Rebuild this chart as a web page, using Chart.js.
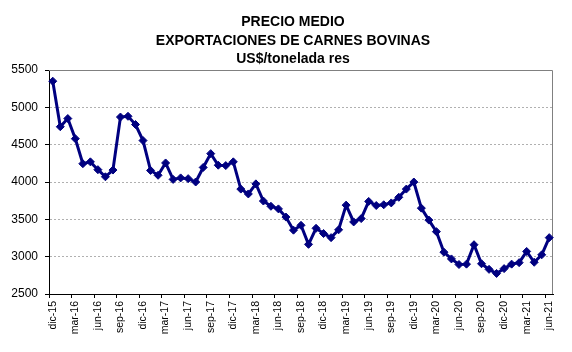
<!DOCTYPE html>
<html>
<head>
<meta charset="utf-8">
<script src="https://cdn.jsdelivr.net/npm/chart.js@4.4.1/dist/chart.umd.min.js"></script>
<style>
html, body { margin: 0; padding: 0; background: #fff; }
canvas { display: block; }
</style>
</head>
<body>
<canvas id="myChart" width="572" height="352"></canvas>
<script>
/* Data */
const titleLines = ['PRECIO MEDIO', 'EXPORTACIONES DE CARNES BOVINAS', 'US$/tonelada res']

const months = [
    'dic-15',
    'ene-16','feb-16','mar-16','abr-16','may-16','jun-16','jul-16','ago-16','sep-16','oct-16','nov-16','dic-16',
    'ene-17','feb-17','mar-17','abr-17','may-17','jun-17','jul-17','ago-17','sep-17','oct-17','nov-17','dic-17',
    'ene-18','feb-18','mar-18','abr-18','may-18','jun-18','jul-18','ago-18','sep-18','oct-18','nov-18','dic-18',
    'ene-19','feb-19','mar-19','abr-19','may-19','jun-19','jul-19','ago-19','sep-19','oct-19','nov-19','dic-19',
    'ene-20','feb-20','mar-20','abr-20','may-20','jun-20','jul-20','ago-20','sep-20','oct-20','nov-20','dic-20',
    'ene-21','feb-21','mar-21','abr-21','may-21','jun-21'
]

const prices = [
    5350,
    4740, 4850, 4580, 4245, 4270, 4165, 4070, 4160, 4870, 4880, 4770, 4555,
    4155, 4090, 4255, 4035, 4055, 4045, 4000, 4195, 4380, 4225, 4220, 4270,
    3905, 3840, 3975, 3745, 3675, 3640, 3530, 3355, 3420, 3165, 3380, 3310,
    3255, 3360, 3690, 3465, 3510, 3740, 3685, 3695, 3720, 3795, 3905, 4000,
    3650, 3490, 3335, 3060, 2970, 2895, 2900, 3160, 2905, 2830, 2775, 2840,
    2900, 2920, 3070, 2925, 3025, 3255
]

const yTicks = { min: 2500, max: 5500, step: 500 }

/* Plugins: title text and plot frame */
const titlePlugin = {
    id: 'titleText',
    afterDraw(chart) {
        const c = chart.ctx
        c.save()
        c.fillStyle = '#000'
        c.font = 'bold 14px "Liberation Sans", Arial, sans-serif'
        c.textAlign = 'center'
        c.textBaseline = 'alphabetic'
        const baselines = [26, 44.5, 63]
        titleLines.forEach((t, i) => c.fillText(t, 293, baselines[i]))
        c.restore()
    }
}

const framePlugin = {
    id: 'plotFrame',
    beforeDatasetsDraw(chart) {
        const a = chart.chartArea
        const c = chart.ctx
        c.save()
        c.strokeStyle = '#808080'
        c.lineWidth = 1
        c.beginPath()
        c.moveTo(a.left, a.top + 0.5)
        c.lineTo(a.right - 0.5, a.top + 0.5)
        c.lineTo(a.right - 0.5, a.bottom)
        c.stroke()
        c.restore()
    }
}

const ctx = document.getElementById('myChart').getContext('2d')
const myChart = new Chart(ctx, {
    type: 'line',
    data: {
        labels: months,
        datasets: [{
            data: prices,
            borderColor: '#000080',
            backgroundColor: '#000080',
            borderWidth: 3,
            pointStyle: 'rectRot',
            pointRadius: 4,
            pointBorderWidth: 1,
            tension: 0
        }]
    },
    options: {
        responsive: false,
        animation: false,
        layout: { padding: { top: 70, right: 19, left: 0, bottom: 0 } },
        plugins: {
            legend: { display: false },
            title: { display: false },
            tooltip: { enabled: false }
        },
        scales: {
            x: {
                type: 'category',
                offset: true,
                afterFit: s => { s.height = 58 },
                grid: {
                    offset: true,
                    drawOnChartArea: false,
                    tickLength: 4,
                    tickColor: c => (c.index % 3 === 0 ? '#000' : 'rgba(0,0,0,0)')
                },
                border: { color: '#000', width: 1 },
                ticks: {
                    autoSkip: false,
                    maxRotation: 90,
                    minRotation: 90,
                    padding: 3,
                    color: '#000',
                    font: { family: '"Liberation Sans", Arial, sans-serif', size: 10.5 },
                    callback: function (v, i) { return i % 3 === 0 ? this.getLabelForValue(v) : '' }
                }
            },
            y: {
                min: yTicks.min,
                max: yTicks.max,
                afterFit: s => { s.width = 49 },
                grid: {
                    color: '#b0b0b0',
                    tickColor: '#000',
                    tickLength: 4
                },
                border: { color: '#000', width: 1, dash: [2, 2] },
                ticks: {
                    stepSize: yTicks.step,
                    padding: 7,
                    color: '#000',
                    font: { family: '"Liberation Sans", Arial, sans-serif', size: 12 },
                    callback: v => String(v)
                }
            }
        }
    },
    plugins: [titlePlugin, framePlugin]
})
</script>
</body>
</html>
